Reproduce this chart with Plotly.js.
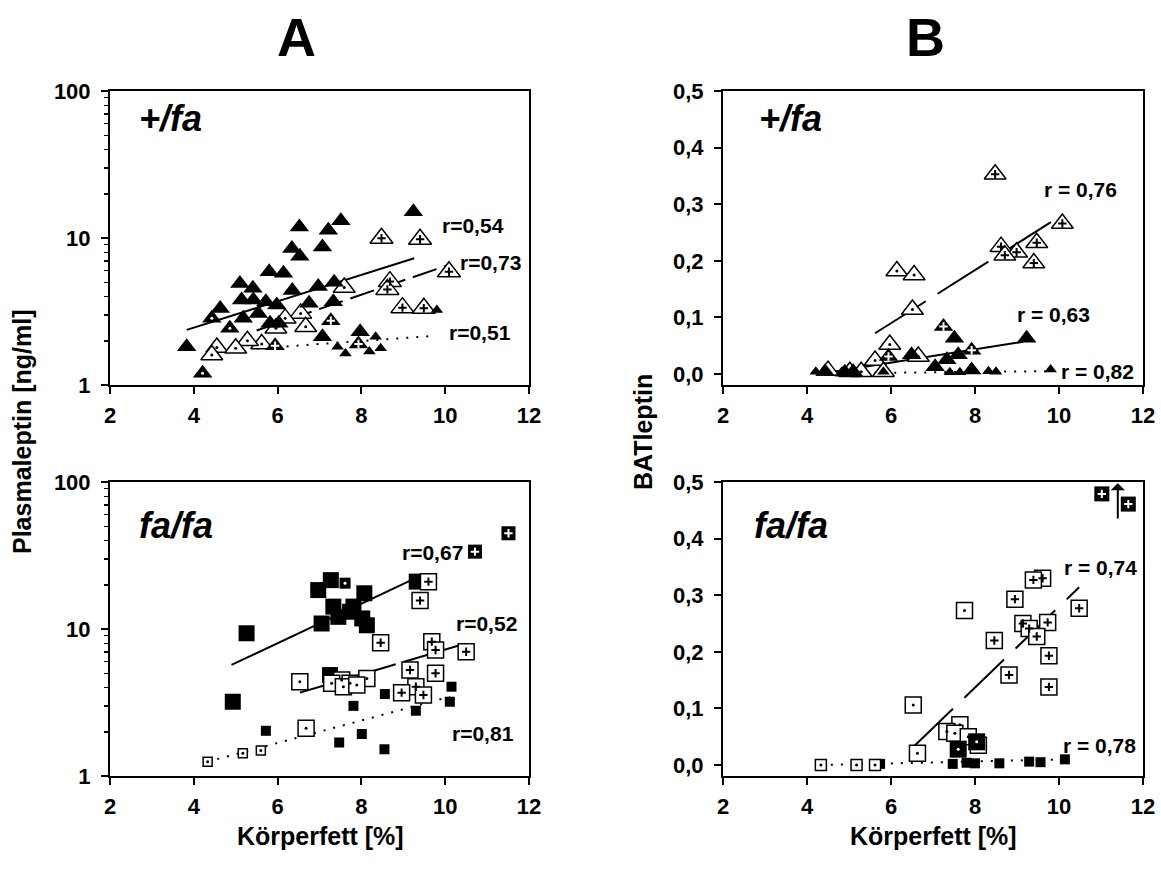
<!DOCTYPE html>
<html><head><meta charset="utf-8">
<script src="https://cdn.plot.ly/plotly-3.0.1.min.js"></script>
<style>html,body{margin:0;padding:0;background:#fff}#chart{width:1161px;height:874px}</style>
</head><body><div id="chart"></div>
<script>
// ---------- shared ticks ----------
const xTicks = [2, 4, 6, 8, 10, 12];
const logTicks = [1, 10, 100];
const logTickText = ['1', '10', '100'];
const logMinor = [2,3,4,5,6,7,8,9,20,30,40,50,60,70,80,90];
const linTicks = [0, 0.1, 0.2, 0.3, 0.4, 0.5];
const linTickText = ['0,0', '0,1', '0,2', '0,3', '0,4', '0,5'];

// ---------- Panel A top (+/fa), Plasmaleptin ----------
const aT_bigX = [9.24,7.51,6.52,7.21,6.34,7.07,6.53,5.80,6.14,5.10,5.41,6.35,6.97,7.35,5.14,5.42,5.72,5.98,6.75,7.33,4.63,5.54,5.18,6.03,5.82,7.07,7.97,3.83];
const aT_bigY = [15.1,13.1,11.9,11.3,8.5,8.7,7.5,5.9,5.75,4.9,4.55,4.4,4.67,5.0,3.79,3.79,3.69,3.5,3.6,3.69,3.32,3.07,2.84,2.63,2.63,2.13,2.3,1.82];
const aT_bigDotX = [4.43,4.86,4.21];
const aT_bigDotY = [2.84,2.43,1.2];
const aT_bigPlusX = [7.27,7.93,5.94];
const aT_bigPlusY = [2.74,1.9,1.85];
const aT_openPlusX = [8.48,9.40,10.09,8.68,8.62,8.98,9.49];
const aT_openPlusY = [9.95,9.8,5.9,5.05,4.47,3.36,3.33];
const aT_openDotX = [6.55,6.67,6.18,5.96,5.62,5.28,4.55,4.43,5.0,7.59];
const aT_openDotY = [3.07,2.49,2.84,2.43,1.9,2.0,1.8,1.6,1.78,4.6];
const aT_smallX = [7.43,7.62,8.19,8.34,8.46,9.8];
const aT_smallY = [1.82,1.64,1.69,2.13,1.78,3.24];
const aT_fit1X = [3.83, 9.26], aT_fit1Y = [2.37, 7.28];
const aT_fit2X = [5.5, 10.08], aT_fit2Y = [2.35, 6.55];
const aT_fit3X = [5.5, 9.64],  aT_fit3Y = [1.77, 2.15];

// ---------- Panel A bottom (fa/fa), Plasmaleptin ----------
const aB_bigX = [7.27,6.97,8.07,7.33,7.81,7.73,7.45,8.02,8.13,7.05,9.32,5.26,4.93,7.25];
const aB_bigY = [21.5,18.4,17.5,14.2,14.2,13.1,12.1,11.8,10.6,10.9,21,9.35,3.2,4.86];
const aB_midDotX = [7.61];
const aB_midDotY = [20.5];
const aB_openPlusX = [9.6,9.4,8.46,9.68,9.77,10.5,9.16,9.77,9.3,8.96,9.48];
const aB_openPlusY = [21,15.6,8.07,8.2,7.2,7.0,5.26,5.0,4.05,3.69,3.56];
const aB_bigPlusX = [11.51,10.71];
const aB_bigPlusY = [44.8,33.6];
const aB_openDotX = [6.53,6.68,7.53,7.73,8.13,7.29,7.57,7.89];
const aB_openDotY = [4.38,2.11,4.5,4.27,4.6,4.27,4.05,4.16];
const aB_smallX = [10.15,10.11,9.3,8.56,7.81,8.01,7.47,8.55,5.72];
const aB_smallY = [4.05,3.2,2.78,3.61,3.0,1.93,1.69,1.52,2.03];
const aB_smallOpenX = [4.33,5.17,5.6];
const aB_smallOpenY = [1.25,1.43,1.49];
const aB_fit1X = [4.9, 9.28],  aB_fit1Y = [5.7, 22.1];
const aB_fit2X = [6.53, 10.51], aB_fit2Y = [3.69, 8.0];
const aB_fit3X = [4.33, 10.11], aB_fit3Y = [1.25, 3.46];

// ---------- Panel B top (+/fa), BATleptin ----------
const bT_openPlusX = [8.48,10.08,9.47,8.62,8.99,8.71,9.40];
const bT_openPlusY = [0.353,0.266,0.232,0.225,0.215,0.21,0.196];
const bT_openDotX = [6.14,6.55,6.51,5.97,5.62,6.65,5.29,5.82,4.5,5.02];
const bT_openDotY = [0.182,0.175,0.114,0.052,0.024,0.031,0.004,0.004,0.006,0.004];
const bT_bigPlusX = [7.25,7.92,5.94];
const bT_bigPlusY = [0.084,0.042,0.031];
const bT_bigX = [9.23,7.51,7.6,7.33,7.05,6.49,7.92,4.43,4.9,5.1];
const bT_bigY = [0.063,0.063,0.034,0.025,0.013,0.034,0.007,0.004,0.003,0.004];
const bT_smallX = [7.4,7.64,8.32,8.5,9.8,4.21,4.83,5.82];
const bT_smallY = [0.003,0.003,0.005,0.004,0.008,0.004,0.004,0.004];
const bT_fit1X = [5.62, 10.08], bT_fit1Y = [0.072, 0.281];
const bT_fit2X = [4.63, 9.15],  bT_fit2Y = [0.004, 0.057];
const bT_fit3X = [5.6, 9.71],   bT_fit3Y = [0.002, 0.005];

// ---------- Panel B bottom (fa/fa), BATleptin ----------
const bB_openPlusX = [9.61,9.39,8.95,10.48,8.46,9.14,9.29,9.73,9.47,9.76,8.81,9.76];
const bB_openPlusY = [0.330,0.327,0.293,0.277,0.220,0.250,0.241,0.252,0.227,0.193,0.159,0.138];
const bB_openDotX = [7.75,6.53,6.63,7.64,7.33,7.52,7.84,8.08];
const bB_openDotY = [0.273,0.106,0.021,0.071,0.059,0.056,0.05,0.035];
const bB_smallOpenX = [4.33,5.18,5.62];
const bB_smallOpenY = [0,0,0];
const bB_bigDotX = [7.6,8.04];
const bB_bigDotY = [0.028,0.041];
const bB_smallX = [5.74,7.47,7.8,8.0,8.58,9.29,9.56,10.14];
const bB_smallY = [0.002,0.002,0.004,0.003,0.003,0.006,0.005,0.010];
const bB_bigPlusX = [11.02,11.65];
const bB_bigPlusY = [0.479,0.461];
const bB_fit1X = [6.53, 10.48], bB_fit1Y = [0.032, 0.314];
const bB_fit2X = [4.33, 10.14], bB_fit2Y = [0, 0.010];
const bB_arrowX = [11.4], bB_arrowY = [0.433, 0.498];

// ---------- labels ----------
const panelTitles = ['A', 'B'];
const genoLabels = ['+/fa', 'fa/fa', '+/fa', 'fa/fa'];
const rLabels = ['r=0,54','r=0,73','r=0,51','r=0,67','r=0,52','r=0,81','r = 0,76','r = 0,63','r = 0,82','r = 0,74','r = 0,78'];
const yTitles = ['Plasmaleptin [ng/ml]', 'BATleptin'];
const xTitle = 'Körperfett [%]';

// ---------- helpers ----------
const FONT = 'Arial, "Liberation Sans", Helvetica, sans-serif';
const traces = [];
function ax(i){ return i===1 ? {xaxis:'x', yaxis:'y'} : {xaxis:'x'+i, yaxis:'y'+i}; }
function pts(x, y, a, sym, size, fill, lw){
  traces.push(Object.assign({type:'scatter', mode:'markers', x:x, y:y, hoverinfo:'skip',
    marker:{symbol:sym, size:size, color:fill, line:{color:'black', width:lw}}}, ax(a)));
}
function plus(x, y, a, col, size){
  traces.push(Object.assign({type:'scatter', mode:'markers', x:x, y:y, hoverinfo:'skip',
    marker:{symbol:'cross-thin', size:size||6, color:col, line:{color:col, width:2}}}, ax(a)));
}
function dot(x, y, a, col){
  traces.push(Object.assign({type:'scatter', mode:'markers', x:x, y:y, hoverinfo:'skip',
    marker:{symbol:'circle', size:3, color:col, line:{width:0}}}, ax(a)));
}
function fit(x, y, a, dash){
  traces.push(Object.assign({type:'scatter', mode:'lines', x:x, y:y, hoverinfo:'skip',
    line:{color:'black', width:2, dash:dash}}, ax(a)));
}

// Panel A top (axis 1)
fit(aT_fit1X, aT_fit1Y, 1, 'solid');
fit(aT_fit2X, aT_fit2Y, 1, '25px,8px');
fit(aT_fit3X, aT_fit3Y, 1, '2px,8px');
pts(aT_openDotX, aT_openDotY, 1, 'triangle-up', 19, 'white', 1.5);
dot(aT_openDotX, aT_openDotY, 1, 'black');
pts(aT_bigX, aT_bigY, 1, 'triangle-up', 17, 'black', 0);
pts(aT_bigDotX, aT_bigDotY, 1, 'triangle-up', 17, 'black', 0);
dot(aT_bigDotX, aT_bigDotY, 1, 'white');
pts(aT_bigPlusX, aT_bigPlusY, 1, 'triangle-up', 17, 'black', 0);
plus(aT_bigPlusX, aT_bigPlusY, 1, 'white');
pts(aT_openPlusX, aT_openPlusY, 1, 'triangle-up', 20, 'white', 1.5);
plus(aT_openPlusX, aT_openPlusY, 1, 'black');
pts(aT_smallX, aT_smallY, 1, 'triangle-up', 11, 'black', 0);

// Panel A bottom (axis 2)
fit(aB_fit1X, aB_fit1Y, 2, 'solid');
fit(aB_fit2X, aB_fit2Y, 2, '28px,8px');
fit(aB_fit3X, aB_fit3Y, 2, '2px,8px');
pts(aB_bigX, aB_bigY, 2, 'square', 16, 'black', 0);
pts(aB_midDotX, aB_midDotY, 2, 'square', 11, 'black', 0);
dot(aB_midDotX, aB_midDotY, 2, 'white');
pts(aB_openDotX, aB_openDotY, 2, 'square', 16, 'white', 1.5);
dot(aB_openDotX, aB_openDotY, 2, 'black');
pts(aB_openPlusX, aB_openPlusY, 2, 'square', 16, 'white', 1.5);
plus(aB_openPlusX, aB_openPlusY, 2, 'black');
pts(aB_bigPlusX, aB_bigPlusY, 2, 'square', 14, 'black', 0);
plus(aB_bigPlusX, aB_bigPlusY, 2, 'white');
pts(aB_smallX, aB_smallY, 2, 'square', 10, 'black', 0);
pts(aB_smallOpenX, aB_smallOpenY, 2, 'square', 9, 'white', 1.5);
dot(aB_smallOpenX, aB_smallOpenY, 2, 'black');

// Panel B top (axis 3)
fit(bT_fit1X, bT_fit1Y, 3, '60px,14px');
fit(bT_fit2X, bT_fit2Y, 3, 'solid');
fit(bT_fit3X, bT_fit3Y, 3, '2px,8px');
pts(bT_openDotX, bT_openDotY, 3, 'triangle-up', 19, 'white', 1.5);
dot(bT_openDotX, bT_openDotY, 3, 'black');
pts(bT_bigX, bT_bigY, 3, 'triangle-up', 17, 'black', 0);
pts(bT_bigPlusX, bT_bigPlusY, 3, 'triangle-up', 17, 'black', 0);
plus(bT_bigPlusX, bT_bigPlusY, 3, 'white');
pts(bT_openPlusX, bT_openPlusY, 3, 'triangle-up', 19, 'white', 1.5);
plus(bT_openPlusX, bT_openPlusY, 3, 'black');
pts(bT_smallX, bT_smallY, 3, 'triangle-up', 11, 'black', 0);

// Panel B bottom (axis 4)
fit(bB_fit1X, bB_fit1Y, 4, '55px,16px');
fit(bB_fit2X, bB_fit2Y, 4, '2px,8px');
pts(bB_openDotX, bB_openDotY, 4, 'square', 16, 'white', 1.5);
dot(bB_openDotX, bB_openDotY, 4, 'black');
pts(bB_bigDotX, bB_bigDotY, 4, 'square', 17, 'black', 0);
dot(bB_bigDotX, bB_bigDotY, 4, 'white');
pts(bB_openPlusX, bB_openPlusY, 4, 'square', 16, 'white', 1.5);
plus(bB_openPlusX, bB_openPlusY, 4, 'black');
pts(bB_smallX, bB_smallY, 4, 'square', 10, 'black', 0);
pts(bB_smallOpenX, bB_smallOpenY, 4, 'square', 11, 'white', 1.5);
dot(bB_smallOpenX, bB_smallOpenY, 4, 'black');
pts(bB_bigPlusX, bB_bigPlusY, 4, 'square', 15, 'black', 0);
plus(bB_bigPlusX, bB_bigPlusY, 4, 'white');

// ---------- layout ----------
const W = 1161, H = 874;
const px = v => v / W, py = v => 1 - v / H;
const tickFont = {family: FONT, size: 22, color: 'black', weight: 700};
const bold = a => a.map(t => '<b>' + t + '</b>');
function xAx(dom, anchor){
  return {domain: dom, anchor: anchor, range: [2, 12], tickvals: xTicks, ticktext: bold(xTicks.map(String)),
    showline: true, linecolor: 'black', linewidth: 2, mirror: true, ticks: 'outside', ticklen: 7,
    tickwidth: 2, tickcolor: 'black', showgrid: false, zeroline: false, tickfont: tickFont,
    ticklabelstandoff: 3, fixedrange: true};
}
function yLog(dom, anchor){
  return {domain: dom, anchor: anchor, type: 'log', range: [0, 2], tickvals: logTicks, ticktext: bold(logTickText),
    minor: {tickvals: logMinor, ticks: 'outside', ticklen: 4, tickwidth: 1.5, tickcolor: 'black', showgrid: false},
    showline: true, linecolor: 'black', linewidth: 2, mirror: true, ticks: 'outside', ticklen: 7,
    tickwidth: 2, tickcolor: 'black', showgrid: false, zeroline: false, tickfont: tickFont,
    ticklabelstandoff: 6, fixedrange: true};
}
function yLin(dom, anchor){
  return {domain: dom, anchor: anchor, range: [-0.0194, 0.5], tickvals: linTicks, ticktext: bold(linTickText),
    showline: true, linecolor: 'black', linewidth: 2, mirror: true, ticks: 'outside', ticklen: 7,
    tickwidth: 2, tickcolor: 'black', showgrid: false, zeroline: false, tickfont: tickFont,
    ticklabelstandoff: 6, fixedrange: true};
}
const dAx = [px(110), px(529)], dBx = [px(723), px(1143)];
const dTop = [py(385), py(91)], dBot = [py(776), py(482)];

const annFont = (s, extra) => Object.assign({family: FONT, size: s, color: 'black', weight: 'bold'}, extra || {});
const ann = (text, x, y, size, extra, opts) => Object.assign({text: '<b>' + text + '</b>', x: px(x), y: py(y), xref: 'paper', yref: 'paper',
  xanchor: 'center', yanchor: 'middle', showarrow: false, font: annFont(size, extra)}, opts || {});

const rPos = [[473,225],[490,262],[480,332],[432,552],[487,623],[483,733],[1080,190],[1053,314],[1097,372],[1100,567],[1099,745]];
const annotations = [
  ann(panelTitles[0], 296, 37, 54),
  ann(panelTitles[1], 925, 37, 54),
  ann('<i>' + genoLabels[0] + '</i>', 170, 118, 36),
  ann('<i>' + genoLabels[1] + '</i>', 176, 525, 36),
  ann('<i>' + genoLabels[2] + '</i>', 790, 118, 36),
  ann('<i>' + genoLabels[3] + '</i>', 791, 525, 36),
  ann(yTitles[0], 22, 432, 25, null, {textangle: -90}),
  ann(yTitles[1], 643, 432, 25, null, {textangle: -90}),
  ann(xTitle, 320, 836, 25),
  ann(xTitle, 933, 836, 25)
];
rLabels.forEach((t, i) => annotations.push(ann(t, rPos[i][0], rPos[i][1], 21)));
annotations.push({x: bB_arrowX[0], y: bB_arrowY[1], ax: bB_arrowX[0], ay: bB_arrowY[0],
  xref: 'x4', yref: 'y4', axref: 'x4', ayref: 'y4', showarrow: true, arrowhead: 1, arrowsize: 1.2,
  arrowwidth: 2, arrowcolor: 'black', text: ''});

const layout = {
  width: W, height: H, margin: {l: 0, r: 0, t: 0, b: 0},
  paper_bgcolor: 'white', plot_bgcolor: 'white', showlegend: false,
  xaxis: xAx(dAx, 'y'), yaxis: yLog(dTop, 'x'),
  xaxis2: xAx(dAx, 'y2'), yaxis2: yLog(dBot, 'x2'),
  xaxis3: xAx(dBx, 'y3'), yaxis3: yLin(dTop, 'x3'),
  xaxis4: xAx(dBx, 'y4'), yaxis4: yLin(dBot, 'x4'),
  annotations: annotations
};
Plotly.newPlot('chart', traces, layout, {displayModeBar: false, staticPlot: true});
</script>
</body></html>
